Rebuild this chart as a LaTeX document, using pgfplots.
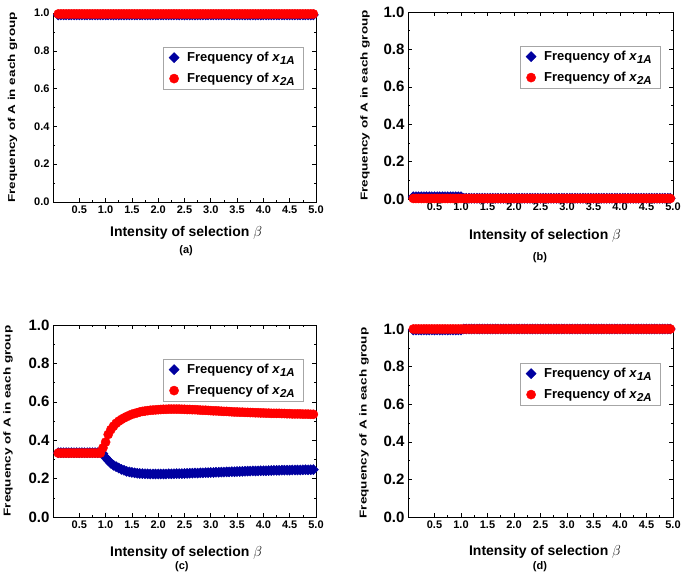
\documentclass[border=0pt]{standalone}
\usepackage{pgfplots}
\pgfplotsset{compat=1.18}
\usepackage{pgfplotstable}
\usepackage{fontspec}
\setmainfont{Liberation Sans}
\usepackage{graphicx}
\definecolor{dblue}{RGB}{0,0,160}
\definecolor{dred}{RGB}{255,0,0}

\pgfplotstableread{
x a1 a2 b1 b2 c1 c2 d1 d2
0.10 0.99 0.995 0.012 0.003 0.335 0.333 0.995 1.0
0.15 0.99 0.995 0.012 0.003 0.335 0.333 0.995 1.0
0.20 0.99 0.995 0.012 0.003 0.335 0.333 0.995 1.0
0.25 0.99 0.995 0.012 0.003 0.335 0.333 0.995 1.0
0.30 0.99 0.995 0.012 0.003 0.335 0.333 0.995 1.0
0.35 0.99 0.995 0.012 0.003 0.335 0.333 0.995 1.0
0.40 0.99 0.995 0.012 0.003 0.335 0.333 0.995 1.0
0.45 0.99 0.995 0.012 0.003 0.335 0.333 0.995 1.0
0.50 0.99 0.995 0.012 0.003 0.335 0.333 0.995 1.0
0.55 0.99 0.995 0.012 0.003 0.335 0.333 0.995 1.0
0.60 0.99 0.995 0.012 0.003 0.335 0.333 0.995 1.0
0.65 0.99 0.995 0.012 0.003 0.335 0.333 0.995 1.0
0.70 0.99 0.995 0.012 0.003 0.335 0.333 0.995 1.0
0.75 0.99 0.995 0.012 0.003 0.335 0.333 0.995 1.0
0.80 0.99 0.995 0.012 0.003 0.335 0.333 0.995 1.0
0.85 0.99 0.995 0.012 0.003 0.335 0.333 0.995 1.0
0.90 0.99 0.995 0.012 0.003 0.335 0.333 0.995 1.0
0.95 0.99 0.995 0.012 0.003 0.330 0.360 0.995 1.0
1.00 0.99 0.995 0.012 0.003 0.310 0.390 0.995 1.0
1.05 0.99 0.995 0.004 0.003 0.295 0.430 1.0 1.0
1.10 0.99 0.995 0.004 0.003 0.280 0.455 1.0 1.0
1.15 0.99 0.995 0.004 0.003 0.270 0.473 1.0 1.0
1.20 0.99 0.995 0.004 0.003 0.262 0.488 1.0 1.0
1.25 0.99 0.995 0.004 0.003 0.255 0.499 1.0 1.0
1.30 0.99 0.995 0.004 0.003 0.248 0.508 1.0 1.0
1.35 0.99 0.995 0.004 0.003 0.243 0.516 1.0 1.0
1.40 0.99 0.995 0.004 0.003 0.238 0.523 1.0 1.0
1.45 0.99 0.995 0.004 0.003 0.235 0.529 1.0 1.0
1.50 0.99 0.995 0.004 0.003 0.232 0.535 1.0 1.0
1.55 0.99 0.995 0.004 0.003 0.230 0.539 1.0 1.0
1.60 0.99 0.995 0.004 0.003 0.228 0.543 1.0 1.0
1.65 0.99 0.995 0.004 0.003 0.227 0.547 1.0 1.0
1.70 0.99 0.995 0.004 0.003 0.226 0.550 1.0 1.0
1.75 0.99 0.995 0.004 0.003 0.225 0.552 1.0 1.0
1.80 0.99 0.995 0.004 0.003 0.225 0.554 1.0 1.0
1.85 0.99 0.995 0.004 0.003 0.224 0.556 1.0 1.0
1.90 0.99 0.995 0.004 0.003 0.224 0.557 1.0 1.0
1.95 0.99 0.995 0.004 0.003 0.224 0.558 1.0 1.0
2.00 0.99 0.995 0.004 0.003 0.224 0.559 1.0 1.0
2.05 0.99 0.995 0.004 0.003 0.224 0.560 1.0 1.0
2.10 0.99 0.995 0.004 0.003 0.224 0.561 1.0 1.0
2.15 0.99 0.995 0.004 0.003 0.224 0.561 1.0 1.0
2.20 0.99 0.995 0.004 0.003 0.225 0.562 1.0 1.0
2.25 0.99 0.995 0.004 0.003 0.225 0.562 1.0 1.0
2.30 0.99 0.995 0.004 0.003 0.225 0.562 1.0 1.0
2.35 0.99 0.995 0.004 0.003 0.226 0.562 1.0 1.0
2.40 0.99 0.995 0.004 0.003 0.226 0.562 1.0 1.0
2.45 0.99 0.995 0.004 0.003 0.226 0.561 1.0 1.0
2.50 0.99 0.995 0.004 0.003 0.227 0.561 1.0 1.0
2.55 0.99 0.995 0.004 0.003 0.227 0.560 1.0 1.0
2.60 0.99 0.995 0.004 0.003 0.228 0.560 1.0 1.0
2.65 0.99 0.995 0.004 0.003 0.228 0.559 1.0 1.0
2.70 0.99 0.995 0.004 0.003 0.229 0.559 1.0 1.0
2.75 0.99 0.995 0.004 0.003 0.229 0.558 1.0 1.0
2.80 0.99 0.995 0.004 0.003 0.230 0.557 1.0 1.0
2.85 0.99 0.995 0.004 0.003 0.230 0.556 1.0 1.0
2.90 0.99 0.995 0.004 0.003 0.231 0.556 1.0 1.0
2.95 0.99 0.995 0.004 0.003 0.231 0.555 1.0 1.0
3.00 0.99 0.995 0.004 0.003 0.232 0.554 1.0 1.0
3.05 0.99 0.995 0.004 0.003 0.232 0.553 1.0 1.0
3.10 0.99 0.995 0.004 0.003 0.233 0.553 1.0 1.0
3.15 0.99 0.995 0.004 0.003 0.233 0.552 1.0 1.0
3.20 0.99 0.995 0.004 0.003 0.234 0.551 1.0 1.0
3.25 0.99 0.995 0.004 0.003 0.234 0.550 1.0 1.0
3.30 0.99 0.995 0.004 0.003 0.235 0.550 1.0 1.0
3.35 0.99 0.995 0.004 0.003 0.235 0.549 1.0 1.0
3.40 0.99 0.995 0.004 0.003 0.236 0.548 1.0 1.0
3.45 0.99 0.995 0.004 0.003 0.236 0.547 1.0 1.0
3.50 0.99 0.995 0.004 0.003 0.237 0.547 1.0 1.0
3.55 0.99 0.995 0.004 0.003 0.237 0.546 1.0 1.0
3.60 0.99 0.995 0.004 0.003 0.238 0.546 1.0 1.0
3.65 0.99 0.995 0.004 0.003 0.238 0.545 1.0 1.0
3.70 0.99 0.995 0.004 0.003 0.239 0.545 1.0 1.0
3.75 0.99 0.995 0.004 0.003 0.239 0.544 1.0 1.0
3.80 0.99 0.995 0.004 0.003 0.240 0.544 1.0 1.0
3.85 0.99 0.995 0.004 0.003 0.240 0.543 1.0 1.0
3.90 0.99 0.995 0.004 0.003 0.240 0.543 1.0 1.0
3.95 0.99 0.995 0.004 0.003 0.241 0.542 1.0 1.0
4.00 0.99 0.995 0.004 0.003 0.241 0.542 1.0 1.0
4.05 0.99 0.995 0.004 0.003 0.241 0.541 1.0 1.0
4.10 0.99 0.995 0.004 0.003 0.242 0.541 1.0 1.0
4.15 0.99 0.995 0.004 0.003 0.242 0.540 1.0 1.0
4.20 0.99 0.995 0.004 0.003 0.243 0.540 1.0 1.0
4.25 0.99 0.995 0.004 0.003 0.243 0.540 1.0 1.0
4.30 0.99 0.995 0.004 0.003 0.243 0.540 1.0 1.0
4.35 0.99 0.995 0.004 0.003 0.244 0.539 1.0 1.0
4.40 0.99 0.995 0.004 0.003 0.244 0.539 1.0 1.0
4.45 0.99 0.995 0.004 0.003 0.244 0.538 1.0 1.0
4.50 0.99 0.995 0.004 0.003 0.244 0.538 1.0 1.0
4.55 0.99 0.995 0.004 0.003 0.245 0.537 1.0 1.0
4.60 0.99 0.995 0.004 0.003 0.245 0.537 1.0 1.0
4.65 0.99 0.995 0.004 0.003 0.245 0.537 1.0 1.0
4.70 0.99 0.995 0.004 0.003 0.245 0.537 1.0 1.0
4.75 0.99 0.995 0.004 0.003 0.246 0.536 1.0 1.0
4.80 0.99 0.995 0.004 0.003 0.246 0.536 1.0 1.0
4.85 0.99 0.995 0.004 0.003 0.246 0.536 1.0 1.0
4.90 0.99 0.995 0.004 0.003 0.246 0.535 1.0 1.0
4.95 0.99 0.995 0.004 0.003 0.247 0.535 1.0 1.0
}\data

\newcommand{\xone}{\textit{x}\raisebox{-0.45ex}{\fontsize{11.5}{12}\selectfont\bfseries\itshape 1A}}
\newcommand{\xtwo}{\textit{x}\raisebox{-0.45ex}{\fontsize{11.5}{12}\selectfont\bfseries\itshape 2A}}

\pgfplotsset{
  panel/.style={
    scale only axis,
    xmin=0, xmax=5, ymin=0, ymax=1,
    xtick={0.5,1,1.5,2,2.5,3,3.5,4,4.5,5},
    ytick={0,0.2,0.4,0.6,0.8,1},
    minor x tick num=1, minor y tick num=1,
    tick align=inside,
    major tick length=4pt, minor tick length=2pt,
    axis line style={line width=0.8pt},
    every tick/.style={black, line width=0.6pt},
    xticklabel style={font=\fontsize{11}{12}\selectfont\bfseries},
    /pgf/number format/fixed,
    /pgf/number format/fixed zerofill,
    /pgf/number format/precision=1,
    /pgf/number format/assume math mode=true,
    xlabel={Intensity of selection $\beta$},
    xlabel style={font=\fontsize{14}{16}\selectfont\bfseries, anchor=center},
    ylabel={\scalebox{1.35}[1]{Frequency of A in each group}},
    ylabel style={font=\fontsize{10}{12}\selectfont\bfseries, anchor=center},
    clip=false,
    legend cell align=left,
    legend style={at={(1,1)}, anchor=north east, xshift=-13pt, yshift=-34pt,
      draw=gray!70, line width=0.4pt, font=\fontsize{13}{14}\selectfont\bfseries,
      row sep=6pt, inner xsep=6pt, inner ysep=3pt,
      /tikz/every odd column/.append style={column sep=6pt}},
  },
  bluem/.style={only marks, mark=square*, color=dblue, mark options={rotate=45}, mark size=3.6pt},
  redm/.style={only marks, mark=*, color=dred, mark size=4.6pt},
}

\begin{document}
\begin{tikzpicture}
\path[use as bounding box] (0pt,0pt) rectangle (685pt,-582pt);

% (a)
\begin{axis}[panel, width=263pt, height=189pt, at={(53pt,-202pt)}, anchor=south west,
  yticklabel style={font=\fontsize{11}{12}\selectfont\bfseries},
  xlabel style={at={(axis description cs:0.506,-0.164)}},
  ylabel style={at={(axis description cs:-0.154,0.5)}}]
\addplot[bluem] table[x=x,y=a1]{\data};
\addlegendentry{Frequency of \xone}
\addplot[redm] table[x=x,y=a2]{\data};
\addlegendentry{Frequency of \xtwo}
\node[font=\fontsize{11}{12}\selectfont\bfseries] at (axis description cs:0.506,-0.259) {(a)};
\end{axis}

% (b)
\begin{axis}[panel, width=265pt, height=187pt, at={(408pt,-199pt)}, anchor=south west,
  yticklabel style={font=\fontsize{15}{16}\selectfont\bfseries},
  xlabel style={at={(axis description cs:0.517,-0.198)}},
  ylabel style={at={(axis description cs:-0.162,0.5)}}]
\addplot[bluem] table[x=x,y=b1]{\data};
\addlegendentry{Frequency of \xone}
\addplot[redm] table[x=x,y=b2]{\data};
\addlegendentry{Frequency of \xtwo}
\node[font=\fontsize{11}{12}\selectfont\bfseries] at (axis description cs:0.498,-0.316) {(b)};
\end{axis}

% (c)
\begin{axis}[panel, width=263pt, height=192pt, at={(53pt,-517pt)}, anchor=south west,
  yticklabel style={font=\fontsize{15}{16}\selectfont\bfseries},
  xlabel style={at={(axis description cs:0.506,-0.1875)}},
  ylabel style={at={(axis description cs:-0.171,0.5)}}]
\addplot[bluem] table[x=x,y=c1]{\data};
\addlegendentry{Frequency of \xone}
\addplot[redm] table[x=x,y=c2]{\data};
\addlegendentry{Frequency of \xtwo}
\node[font=\fontsize{11}{12}\selectfont\bfseries] at (axis description cs:0.49,-0.26) {(c)};
\end{axis}

% (d)
\begin{axis}[panel, width=265pt, height=188pt, at={(408pt,-517pt)}, anchor=south west,
  yticklabel style={font=\fontsize{15}{16}\selectfont\bfseries},
  xlabel style={at={(axis description cs:0.517,-0.186)}},
  ylabel style={at={(axis description cs:-0.166,0.5)}}]
\addplot[bluem] table[x=x,y=d1]{\data};
\addlegendentry{Frequency of \xone}
\addplot[redm] table[x=x,y=d2]{\data};
\addlegendentry{Frequency of \xtwo}
\node[font=\fontsize{11}{12}\selectfont\bfseries] at (axis description cs:0.498,-0.266) {(d)};
\end{axis}
\end{tikzpicture}
\end{document}
